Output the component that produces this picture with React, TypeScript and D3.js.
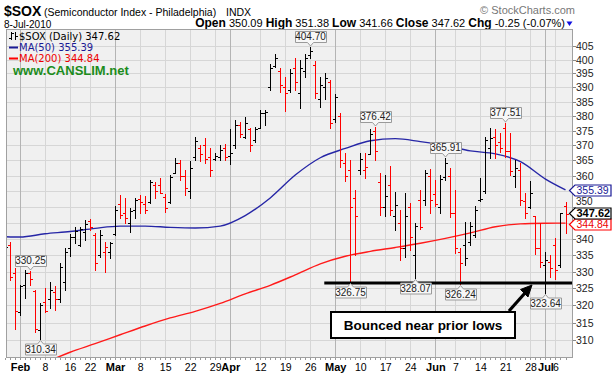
import React from 'react';
import * as d3 from 'd3';

const W = 613;
const H = 379;
const PLOT = { left: 6, right: 573, top: 29, bottom: 358 };

const FIRST_DAY = '2010-01-27';
const LAST_DAY = '2010-07-08';
const HOLIDAYS = ['2010-02-15', '2010-04-02', '2010-05-31', '2010-07-05'];

const OPEN = [
  339, 338, 329.5,
  318, 326, 329.5, 324.3, 313,
  321, 322, 324, 322, 327,
  337, 340.5, 338, 342,
  345.5, 341, 335, 336, 336,
  341.5, 351, 348, 345, 349,
  352.5, 351, 351.5, 357, 357,
  353, 351.5, 361, 364, 360,
  355, 366, 369, 370, 366,
  365.5, 366, 369, 366.5,
  370, 377, 373, 375.5, 372,
  376, 381, 390, 397.5, 396,
  390, 389, 397, 388, 396,
  401.5, 398, 386, 390, 392,
  379, 380, 364, 362, 352.7,
  362, 362, 367, 375, 358,
  350, 357, 347, 345, 337,
  350, 335, 352, 352, 360,
  354, 350, 359.5, 360,
  348, 336, 338, 339, 341,
  352, 355, 369, 373, 371,
  376, 368, 360, 362, 351.7,
  350, 347, 337, 332, 333,
  338, 332, 350.09,
];
const HIGH = [
  340.5, 339.1, 331.0,
  326.1, 330.5, 330.25, 324.6, 320.6,
  325.1, 327.0, 325.8, 332.5, 337.0,
  341.3, 343.7, 343.7, 345.8,
  346.0, 341.7, 342.7, 339.1, 339.1,
  350.1, 353.8, 352.7, 349.6, 352.7,
  353.8, 353.3, 358.7, 358.0, 359.1,
  353.9, 360.2, 365.7, 365.0, 361.9,
  364.7, 372.7, 370.1, 372.4, 369.0,
  367.4, 370.1, 370.4, 375.5,
  378.5, 378.1, 379.6, 375.8, 376.4,
  382.1, 382.1, 398.5, 401.9, 397.1,
  393.8, 396.5, 400.5, 399.85, 401.9,
  404.7, 399.5, 393.8, 395.0, 392.5,
  387.8, 380.9, 367.5, 365.2, 355.4,
  367.5, 367.5, 375.5, 376.42, 360.8,
  360.2, 363.2, 354.8, 349.0, 354.3,
  351.1, 344.8, 355.4, 361.9, 362.1,
  358.6, 360.2, 365.91, 362.5,
  355.4, 337.1, 345.3, 345.3, 350.3,
  359.2, 373.0, 375.8, 375.5, 374.3,
  377.51, 374.1, 365.2, 364.1, 354.3,
  358.1, 347.1, 344.8, 336.0, 335.0,
  340.1, 348.1, 351.38,
];
const LOW = [
  335, 327.5, 313.2,
  317.3, 322.1, 326.1, 312.5, 310.34,
  318.2, 319.2, 318.7, 321.1, 324.6,
  334.6, 338.6, 337.6, 339.6,
  342.7, 330.5, 334.5, 330.0, 334.0,
  341.2, 346.3, 344.8, 342.2, 346.3,
  348.0, 348.0, 351.2, 352.7, 354.3,
  348.2, 351.2, 360.8, 358.6, 353.8,
  352.7, 365.2, 364.7, 364.1, 360.0,
  365.0, 365.0, 365.2, 363.9,
  369.0, 373.0, 372.4, 368.3, 371.3,
  375.8, 377.1, 389.1, 397.2, 388.5,
  381.7, 388.5, 389.0, 382.7, 393.8,
  400.5, 386.4, 383.3, 386.0, 376.0,
  377.9, 363.0, 358.1, 326.75, 335.0,
  360.7, 359.3, 367.0, 365.2, 347.4,
  347.1, 347.4, 342.7, 333.6, 334.5,
  336.5, 328.07, 343.0, 350.6, 348.0,
  350.3, 348.0, 358.6, 346.8,
  335.5, 326.24, 332.0, 338.2, 340.6,
  351.7, 354.5, 365.8, 365.8, 367.9,
  366.3, 360.2, 356.4, 350.6, 346.4,
  349.5, 335.4, 331.5, 323.64, 328.5,
  327.7, 331.5, 341.66,
];
const CLOSE = [
  337.5, 328.5, 318.5,
  325.8, 329.6, 327.8, 313.2, 320.2,
  318.5, 324.5, 322, 331.5, 336,
  340.5, 342.5, 343, 344.5,
  343.5, 332.5, 341, 337.5, 338.8,
  349, 347.5, 346.5, 348.5, 352,
  351.5, 349, 358, 355, 354.5,
  349.5, 359.5, 364, 360, 356,
  362.5, 371.5, 367, 365.5, 362,
  366.5, 368.5, 366, 367.5,
  377, 374, 377.5, 370, 375.5,
  381, 381.5, 397, 400.5, 391,
  388, 395, 392, 397, 400.5,
  403, 388, 391, 393.5, 377.5,
  386.5, 365, 360, 350, 347,
  365.5, 363, 374, 368, 350,
  353.5, 349, 350.5, 337, 347,
  340.5, 344, 343.5, 361, 352,
  351, 359, 364, 348,
  337, 332.7, 334, 344, 349,
  352.5, 372, 372.5, 370, 369,
  368, 361.5, 362.5, 352, 348,
  354.3, 337, 333, 333.5, 331,
  330.5, 347.87, 347.62,
];

const MA50_DATES = ['2010-01-27', '2010-02-01', '2010-02-08', '2010-02-16', '2010-02-23', '2010-03-02', '2010-03-09', '2010-03-16', '2010-03-23', '2010-03-30', '2010-04-07', '2010-04-14', '2010-04-21', '2010-04-28', '2010-05-05', '2010-05-12', '2010-05-19', '2010-05-26', '2010-06-03', '2010-06-10', '2010-06-17', '2010-06-24', '2010-07-01', '2010-07-08'];
const MA50 = [340.6, 340.5, 341.5, 342.2, 343.2, 343.9, 343.9, 343.5, 343.3, 343.9, 347.2, 352.8, 360.2, 365.9, 369.0, 371.6, 372.3, 371.3, 370.0, 368.2, 367.2, 364.6, 358.9, 355.39];
const MA200_DATES = ['2010-02-08', '2010-02-16', '2010-02-23', '2010-03-02', '2010-03-09', '2010-03-16', '2010-03-23', '2010-03-30', '2010-04-07', '2010-04-14', '2010-04-21', '2010-04-28', '2010-05-05', '2010-05-12', '2010-05-19', '2010-05-26', '2010-06-03', '2010-06-10', '2010-06-17', '2010-06-24', '2010-07-01', '2010-07-08'];
const MA200 = [303.8, 306.7, 309.1, 311.6, 314.1, 316.4, 318.3, 320.6, 323.4, 325.9, 329.0, 332.3, 334.6, 336.1, 337.3, 338.6, 340.1, 341.8, 343.7, 344.6, 344.8, 344.84];

// grid levels (every 5); labels for 345 and 355 are covered by the value boxes in the reference
const Y_TICKS = [310, 315, 320, 325, 330, 335, 340, 345, 350, 355, 360, 365, 370, 375, 380, 385, 390, 395, 400, 405];
const Y_LABELS = [310, 315, 320, 325, 330, 335, 340, 350, 360, 365, 370, 375, 380, 385, 390, 395, 400, 405];
const X_TICK_DATES = ['2010-02-01', '2010-02-08', '2010-02-16', '2010-02-22', '2010-03-01', '2010-03-08', '2010-03-15', '2010-03-22', '2010-03-29', '2010-04-01', '2010-04-12', '2010-04-19', '2010-04-26', '2010-05-03', '2010-05-10', '2010-05-17', '2010-05-24', '2010-06-01', '2010-06-07', '2010-06-14', '2010-06-21', '2010-06-28', '2010-07-01', '2010-07-06'];
const X_TICK_LABELS = ['Feb', '8', '16', '22', 'Mar', '8', '15', '22', '29', 'Apr', '12', '19', '26', 'May', '10', '17', '24', 'Jun', '7', '14', '21', '28', 'Jul', '6'];

const PEAK_DATES = ['2010-02-03', '2010-02-05', '2010-04-26', '2010-05-06', '2010-05-13', '2010-05-25', '2010-06-03', '2010-06-08', '2010-06-21', '2010-07-01'];
const PEAK_VALUES = [330.25, 310.34, 404.7, 326.75, 376.42, 328.07, 365.91, 326.24, 377.51, 323.64];
const PEAK_SIDES = ['above', 'below', 'above', 'below', 'above', 'below', 'above', 'below', 'above', 'below'];

const SUPPORT_LEVEL = 326.6;
const SUPPORT_FROM = '2010-04-29';

const LAST_SOX = 347.62;
const LAST_MA50 = 355.39;
const LAST_MA200 = 344.84;

const fmtDay = d3.timeFormat('%Y-%m-%d');
const parseDay = d3.timeParse('%Y-%m-%d');

function tradingDays(): string[] {
  const out: string[] = [];
  let d = parseDay(FIRST_DAY) as Date;
  const end = parseDay(LAST_DAY) as Date;
  while (d <= end) {
    const wd = d.getDay();
    const s = fmtDay(d);
    if (wd !== 0 && wd !== 6 && !HOLIDAYS.includes(s)) out.push(s);
    d = d3.timeDay.offset(d, 1);
  }
  return out;
}

const ARIAL = 'Liberation Sans, Arial, sans-serif';
const VERD = 'DejaVu Sans, Verdana, sans-serif';

export default function App() {
  const days = tradingDays();
  const x = d3.scalePoint<string>().domain(days).range([5, 565.5]);
  const y = d3.scaleLog().domain([305.1, 411.25]).range([PLOT.bottom, PLOT.top]);
  const px = (d: string) => x(d) as number;

  const bars = days.map((d, i) => ({ d, o: OPEN[i], h: HIGH[i], l: LOW[i], c: CLOSE[i], prev: i > 0 ? CLOSE[i - 1] : null }));

  const line = d3.line<[string, number]>().x((p) => px(p[0])).y((p) => y(p[1])).curve(d3.curveMonotoneX);
  const ma50Path = line(MA50_DATES.map((d, i) => [d, MA50[i]] as [string, number])) || '';
  const ma200Path = line(MA200_DATES.map((d, i) => [d, MA200[i]] as [string, number])) || '';

  const crisp = (v: number) => Math.round(v) + 0.5;

  // value flags on the right axis; small offsets keep the stacked flags apart as in the reference
  const valueBox = (v: number, shift: number, stroke: string, color: string, bold: boolean, key: string) => {
    const cy = Math.round(y(v)) + shift;
    const x0 = 575, x1 = 611, tip = 569.5;
    const p = `M${tip},${cy + 0.5} L${x0},${cy - 5} H${x1} V${cy + 6} H${x0} Z`;
    return (
      <g key={key}>
        <path d={p} fill="#fff" stroke={stroke} strokeWidth={1.2} />
        <text x={576.5} y={cy + 4} fontFamily={ARIAL} fontSize={bold ? 11 : 10.5} fontWeight={bold ? 'bold' : 'normal'} fill={color}>
          {v.toFixed(2)}
        </text>
      </g>
    );
  };

  const supportY = y(SUPPORT_LEVEL);

  return (
    <svg width={W} height={H} style={{ position: 'absolute', left: 0, top: 0, display: 'block' }} xmlns="http://www.w3.org/2000/svg">
      <defs>
        <clipPath id="plotclip">
          <rect x={PLOT.left} y={PLOT.top} width={PLOT.right - PLOT.left} height={PLOT.bottom - PLOT.top} />
        </clipPath>
      </defs>
      <rect x={0} y={0} width={W} height={H} fill="#fff" />

      {/* header */}
      <text x={4} y={16} fontFamily={ARIAL} fontSize={14} fontWeight="bold" fill="#000">$SOX</text>
      <text x={44} y={16} fontFamily={ARIAL} fontSize={10.5} fill="#000">(Semiconductor Index - Philadelphia)</text>
      <text x={226} y={16} fontFamily={ARIAL} fontSize={10.5} fill="#000">INDX</text>
      <text x={4} y={28} fontFamily={ARIAL} fontSize={10} fill="#000">8-Jul-2010</text>
      <text x={575} y={14} textAnchor="end" fontFamily={ARIAL} fontSize={11} fill="#777">© StockCharts.com</text>
      <text x={565} y={27} textAnchor="end" fontFamily={ARIAL} fill="#000">
        <tspan fontWeight="bold" fontSize={12}>Open</tspan>
        <tspan fontSize={11}> 350.09 </tspan>
        <tspan fontWeight="bold" fontSize={12}>High</tspan>
        <tspan fontSize={11}> 351.38 </tspan>
        <tspan fontWeight="bold" fontSize={12}>Low</tspan>
        <tspan fontSize={11}> 341.66 </tspan>
        <tspan fontWeight="bold" fontSize={12}>Close</tspan>
        <tspan fontSize={11}> 347.62 </tspan>
        <tspan fontWeight="bold" fontSize={12}>Chg</tspan>
        <tspan fontSize={11}> -0.25 (-0.07%)</tspan>
      </text>
      <path d="M566.5,21.5 L572.5,21.5 L569.5,26 Z" fill="#1010e0" />

      {/* plot background */}
      <rect x={PLOT.left} y={PLOT.top} width={PLOT.right - PLOT.left} height={PLOT.bottom - PLOT.top} fill="#f0f0f0" />

      {/* horizontal grid */}
      {Y_TICKS.map((t) => (
        <line key={'hg' + t} x1={PLOT.left} x2={PLOT.right} y1={crisp(y(t))} y2={crisp(y(t))} stroke="#d6d6d6" strokeWidth={1} />
      ))}
      {/* vertical grid */}
      {X_TICK_DATES.map((d, i) => {
        const isMonth = /^[A-Z]/.test(X_TICK_LABELS[i]);
        return (
          <line key={'vg' + d} x1={crisp(px(d))} x2={crisp(px(d))} y1={PLOT.top} y2={PLOT.bottom} stroke={isMonth ? '#b4b4b4' : '#d6d6d6'} strokeWidth={1} />
        );
      })}

      <g clipPath="url(#plotclip)">
        {/* moving averages */}
        <path d={ma200Path} fill="none" stroke="#ff1a1a" strokeWidth={1.4} />
        <path d={ma50Path} fill="none" stroke="#2626a6" strokeWidth={1.4} />

        {/* OHLC bars */}
        {bars.map((b) => {
          const xc = Math.round(px(b.d));
          const color = b.prev !== null && b.c < b.prev ? '#ff0000' : '#000000';
          const yo = crisp(y(b.o));
          const yc = crisp(y(b.c));
          return (
            <g key={b.d} stroke={color} strokeWidth={1} shapeRendering="crispEdges">
              <line x1={xc + 0.5} x2={xc + 0.5} y1={Math.round(y(b.h))} y2={Math.round(y(b.l)) + 1} />
              <line x1={xc - 2} x2={xc} y1={yo} y2={yo} />
              <line x1={xc + 1} x2={xc + 3} y1={yc} y2={yc} />
            </g>
          );
        })}

        {/* support line */}
        <line x1={px(SUPPORT_FROM) - 1} x2={PLOT.right} y1={supportY} y2={supportY} stroke="#000" strokeWidth={3} />
      </g>

      {/* plot border */}
      <rect x={PLOT.left + 0.5} y={PLOT.top + 0.5} width={PLOT.right - PLOT.left - 1} height={PLOT.bottom - PLOT.top - 1} fill="none" stroke="#a0a0a0" strokeWidth={1} />

      {/* legend */}
      <g>
        <line x1={11.5} x2={11.5} y1={32} y2={40} stroke="#000" />
        <line x1={9} x2={11} y1={38.5} y2={38.5} stroke="#000" />
        <line x1={12} x2={14} y1={33.5} y2={33.5} stroke="#000" />
        <line x1={15.5} x2={15.5} y1={32} y2={40} stroke="#000" />
        <line x1={16} x2={18} y1={36.5} y2={36.5} stroke="#000" />
        <text x={19} y={40} fontFamily={VERD} fontSize={10} fill="#000">$SOX (Daily) 347.62</text>
        <line x1={9} x2={18} y1={47.5} y2={47.5} stroke="#1a1a96" strokeWidth={2} />
        <text x={19} y={51} fontFamily={VERD} fontSize={10} fill="#1a1a96">MA(50) 355.39</text>
        <line x1={9} x2={18} y1={58.5} y2={58.5} stroke="#ff0000" strokeWidth={2} />
        <text x={19} y={62} fontFamily={VERD} fontSize={10} fill="#ee0000">MA(200) 344.84</text>
        <text x={13} y={75} fontFamily={ARIAL} fontSize={13} fontWeight="bold" fill="#1c8c1c">www.CANSLIM.net</text>
      </g>

      {/* peak/trough labels */}
      {PEAK_DATES.map((d, i) => {
        const v = PEAK_VALUES[i];
        const cx = Math.round(px(d)) + 0.5;
        const txt = v.toFixed(2);
        const w = 31;
        const x0 = Math.round(cx - w / 2) + 0.5;
        const x1 = x0 + w;
        let p: string;
        let ty: number;
        if (PEAK_SIDES[i] === 'above') {
          const tipY = Math.round(y(v)) - 1;
          const bot = tipY - 3.5;
          const top = bot - 11;
          p = `M${x0},${top} H${x1} V${bot} H${cx + 3} L${cx},${tipY} L${cx - 3},${bot} H${x0} Z`;
          ty = bot - 2.5;
        } else {
          const tipY = Math.round(y(v)) + 1.5;
          const top = tipY + 3.5;
          const bot = top + 11;
          p = `M${x0},${top} H${cx - 3} L${cx},${tipY} L${cx + 3},${top} H${x1} V${bot} H${x0} Z`;
          ty = bot - 2.5;
        }
        return (
          <g key={'pk' + d}>
            <path d={p} fill="#f7f7f7" stroke="#9a9a9a" strokeWidth={1} />
            <text x={cx} y={ty} textAnchor="middle" fontFamily={ARIAL} fontSize={10} fill="#222">{txt}</text>
          </g>
        );
      })}

      {/* annotation box + arrow */}
      <rect x={331} y={312} width={184} height={26} fill="#fff" stroke="#000" strokeWidth={2} />
      <text x={423} y={330} textAnchor="middle" fontFamily={ARIAL} fontSize={13.5} fontWeight="bold" fill="#000">Bounced near prior lows</text>
      <line x1={509} x2={525} y1={311} y2={293} stroke="#000" strokeWidth={3.2} />
      <path d="M532,285 L520.5,289.5 L528,297 Z" fill="#000" stroke="#000" strokeWidth={1} />

      {/* right axis */}
      {Y_TICKS.map((t) => (
        <line key={'yt' + t} x1={PLOT.right} x2={PLOT.right + 3} y1={crisp(y(t))} y2={crisp(y(t))} stroke="#888" />
      ))}
      {Y_LABELS.map((t) => (
        <text key={'yl' + t} x={576} y={Math.round(y(t)) + (t === 350 ? -2 : 4)} fontFamily={ARIAL} fontSize={t === 350 ? 10 : 10.5} fill="#222">{t}</text>
      ))}
      {valueBox(LAST_MA50, 0, '#1a1a96', '#1a1a96', false, 'vb50')}
      {valueBox(LAST_MA200, 1, '#ff0000', '#ee0000', false, 'vb200')}
      {valueBox(LAST_SOX, -1, '#000', '#000', true, 'vbsox')}

      {/* bottom axis */}
      {bars.map((b) => (
        <line key={'bt' + b.d} x1={crisp(px(b.d))} x2={crisp(px(b.d))} y1={PLOT.bottom} y2={PLOT.bottom + 2} stroke="#999" />
      ))}
      {X_TICK_DATES.map((d, i) => {
        const isMonth = /^[A-Z]/.test(X_TICK_LABELS[i]);
        return (
          <text key={'xl' + d} x={px(d) + 0.5} y={371} textAnchor="middle" fontFamily={ARIAL} fontSize={isMonth ? 11 : 10.5} fontWeight={isMonth ? 'bold' : 'normal'} fill="#000">
            {X_TICK_LABELS[i]}
          </text>
        );
      })}
    </svg>
  );
}
